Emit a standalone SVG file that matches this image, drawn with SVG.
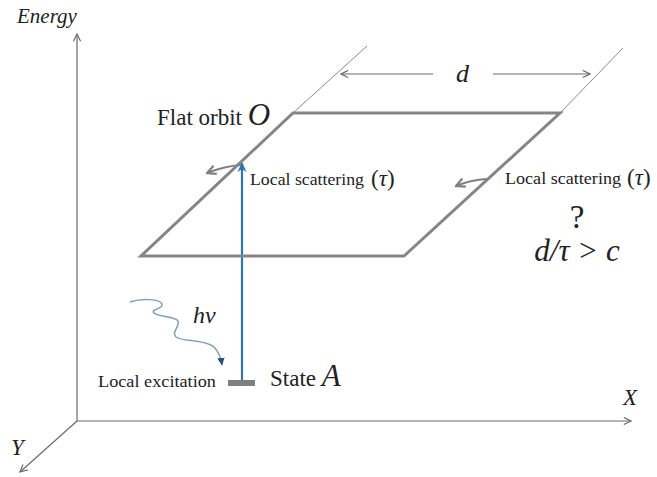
<svg xmlns="http://www.w3.org/2000/svg" width="657" height="477" viewBox="0 0 657 477">
<defs>
<style>
.ax{stroke:#6b6b6b;stroke-width:1.2;fill:none}
.th{stroke:#8a8a8a;stroke-width:1;fill:none}
.orb{stroke:#858585;stroke-width:3;fill:none;stroke-linejoin:miter}
.sc{stroke:#7f7f7f;stroke-width:2;fill:none}
.t{font-family:"Liberation Serif","Times New Roman",serif;fill:#222}
.i{font-style:italic}
</style>
<marker id="open" viewBox="0 0 10 10" refX="9" refY="5" markerWidth="9" markerHeight="9" markerUnits="userSpaceOnUse" orient="auto">
<path d="M1,1 L9,5 L1,9" fill="none" stroke="#6b6b6b" stroke-width="1.3"/>
</marker>
<marker id="gopen" viewBox="0 0 10 10" refX="9" refY="5" markerWidth="11" markerHeight="11" markerUnits="userSpaceOnUse" orient="auto">
<path d="M1,1 L9,5 L1,9" fill="none" stroke="#7f7f7f" stroke-width="2"/>
</marker>
<marker id="blue" viewBox="0 0 10 10" refX="9" refY="5" markerWidth="10" markerHeight="10" markerUnits="userSpaceOnUse" orient="auto">
<path d="M0,0.5 L10,5 L0,9.5 L3,5 Z" fill="#2e75b6"/>
</marker>
<marker id="dblue" viewBox="0 0 10 10" refX="9" refY="5" markerWidth="8" markerHeight="8" markerUnits="userSpaceOnUse" orient="auto">
<path d="M0,0.5 L10,5 L0,9.5 Z" fill="#2a4d80"/>
</marker>
</defs>
<g id="connectors">
<line class="ax" x1="77" y1="421" x2="77" y2="34" marker-end="url(#open)"/>
<line class="ax" x1="77" y1="421" x2="631" y2="421" marker-end="url(#open)"/>
<line class="ax" x1="77" y1="421" x2="20" y2="472" marker-end="url(#open)"/>
<line class="th" x1="293" y1="113" x2="367" y2="46"/>
<line class="th" x1="560" y1="113" x2="623" y2="48"/>
<line class="ax" x1="433" y1="74" x2="341" y2="74" marker-end="url(#open)"/>
<line class="ax" x1="493" y1="74" x2="590" y2="74" marker-end="url(#open)"/>
<line x1="242" y1="380" x2="242" y2="163" stroke="#2e75b6" stroke-width="2.2" marker-end="url(#blue)"/>
<path class="sc" d="M241,165 Q225,166 207,173" marker-end="url(#gopen)"/>
<path class="sc" d="M487,179 Q470,180 456,186" marker-end="url(#gopen)"/>
<path d="M130,302 C142,298 160,299 162,304 C164,309 150,309 154,313 C158,317 176,316 178,321 C180,327 171,332 176,337 C182,342 205,339 214,347 C219,352 221,358 222,365" fill="none" stroke="#7d9cc3" stroke-width="1.5" marker-end="url(#dblue)"/>
</g>
<g id="axis-labels">
<text class="t i" x="17" y="23" font-size="21">Energy</text>
<text class="t i" x="623" y="405" font-size="23">X</text>
<text class="t i" x="11" y="455" font-size="23">Y</text>
</g>
<g id="flat-orbit">
<polygon class="orb" points="293,113 560,113 404,256 141,256"/>
<text class="t" x="157" y="125" font-size="23">Flat orbit <tspan class="i" font-size="31">O</tspan></text>
</g>
<g id="d-label">
<text class="t i" x="456" y="82" font-size="26">d</text>
</g>
<g id="scatter-left">
<text class="t" x="250" y="185" font-size="17.5" textLength="114" lengthAdjust="spacingAndGlyphs">Local scattering</text>
<text class="t" x="371" y="186" font-size="23">(<tspan class="i">τ</tspan>)</text>
</g>
<g id="scatter-right">
<text class="t" x="505" y="184" font-size="17.5" textLength="116" lengthAdjust="spacingAndGlyphs">Local scattering</text>
<text class="t" x="627" y="185" font-size="23">(<tspan class="i">τ</tspan>)</text>
<text class="t" x="577" y="228" font-size="33" text-anchor="middle">?</text>
<text class="t i" x="577" y="261" font-size="31" text-anchor="middle">d/τ &gt; c</text>
</g>
<g id="state-a">
<rect x="228" y="380" width="27" height="6" fill="#7f7f7f"/>
<text class="t" x="98" y="387" font-size="17.5" textLength="118" lengthAdjust="spacingAndGlyphs">Local excitation</text>
<text class="t" x="270" y="386" font-size="23">State <tspan class="i" font-size="31">A</tspan></text>
</g>
<g id="photon">
<text class="t i" x="193" y="323" font-size="24">hv</text>
</g>
</svg>
